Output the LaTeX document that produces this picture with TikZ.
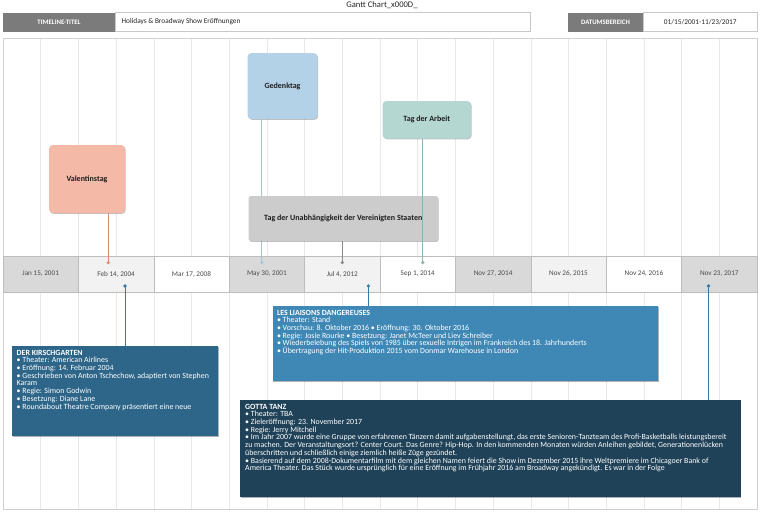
\documentclass[tikz,border=0pt]{standalone}
\usepackage{fontspec}
\setmainfont{Carlito}
\usetikzlibrary{shadows}
\definecolor{hdrgray}{HTML}{7B7B7B}
\definecolor{hdrline}{HTML}{C8C8C8}
\definecolor{framec}{HTML}{D0D0D0}
\definecolor{gridc}{HTML}{E8E8E8}
\definecolor{cellgray}{HTML}{D9D9D9}
\definecolor{celllight}{HTML}{F2F2F2}
\definecolor{cellline}{HTML}{BDBDBD}
\definecolor{datetext}{HTML}{4A4A4A}
\definecolor{cval}{HTML}{F4B9A7}
\definecolor{cged}{HTML}{B3D1E7}
\definecolor{carb}{HTML}{B4D7D2}
\definecolor{cunab}{HTML}{CCCCCC}
\definecolor{lval}{HTML}{D98A72}
\definecolor{lged}{HTML}{A5C5DB}
\definecolor{larb}{HTML}{8AB3B3}
\definecolor{lunab}{HTML}{8A8A8A}
\definecolor{bkir}{HTML}{2E6689}
\definecolor{blia}{HTML}{3F88B6}
\definecolor{bgot}{HTML}{1F4258}
\definecolor{lblue}{HTML}{3678A5}
\definecolor{cardtext}{HTML}{1E1E1E}
\tikzset{
  hdrlab/.style={fill=hdrgray, text=white, inner sep=0pt, outer sep=0pt, anchor=north west,
    minimum height=19pt, font=\fontsize{6.8}{7.5}\selectfont\bfseries},
  hdrval/.style={draw=hdrline, line width=0.6pt, fill=white, inner sep=0pt, outer sep=0pt,
    anchor=north west, minimum height=19pt},
  hdrtext/.style={inner sep=0pt, text=black!85, font=\fontsize{7.3}{8}\selectfont},
  cellbox/.style={draw=cellline, line width=0.5pt, inner sep=0pt, outer sep=0pt, anchor=north west,
    minimum width=75.4pt, minimum height=36pt, text=datetext, font=\fontsize{7.2}{8}\selectfont},
  cardbox/.style={rounded corners=4pt, inner sep=0pt, outer sep=0pt, anchor=north west, text=cardtext,
    font=\fontsize{8}{9}\selectfont\bfseries,
    drop shadow={shadow xshift=0.7pt, shadow yshift=-0.9pt, opacity=0.25, fill=black}},
  infobox/.style={inner sep=0pt, outer sep=0pt, anchor=north west,
    drop shadow={shadow xshift=0.8pt, shadow yshift=-1pt, opacity=0.3, fill=black}},
  infotext/.style={inner sep=0pt, anchor=north west, align=left, text=white,
    font=\fontsize{7.9}{7.7}\selectfont},
  conn/.style={line width=0.9pt},
  dotc/.style={radius=1.8pt},
}
\begin{document}
\begin{tikzpicture}[x=1pt,y=-1pt]
\useasboundingbox (0,0) rectangle (760,514);
\fill[white] (0,0) rectangle (760,514);
% title
\node[inner sep=0pt, text=black!85, font=\fontsize{8.6}{9}\selectfont] (title) at (382,4.8) {Gantt Chart\_x000D\_};
% header
\node[hdrlab, minimum width=112pt] (tlab) at (3,12.5) {TIMELINE-TITEL};
\node[hdrval, minimum width=415pt] (tval) at (115,12.5) {};
\node[hdrtext, anchor=west] (tvaltext) at (121.5,22) {Holidays \& Broadway Show Eröffnungen};
\node[hdrlab, minimum width=76pt] (dlab) at (567.5,12.5) {DATUMSBEREICH};
\node[hdrval, minimum width=113.5pt] (dval) at (643.5,12.5) {};
\node[hdrtext] (dvaltext) at (dval.center) {01/15/2001-11/23/2017};
% frame and grid
\draw[framec, line width=0.6pt] (3,38.3) rectangle (757,509);
\foreach \i in {1,...,19} \draw[gridc, line width=0.6pt] ({3+37.7*\i},38.6) -- ({3+37.7*\i},508.7);
% date bar
\node[cellbox, fill=cellgray] (d1) at (3,256) {Jan 15, 2001};
\node[cellbox, fill=celllight] (d2) at (78.4,256) {Feb 14, 2004};
\node[cellbox, fill=white] (d3) at (153.8,256) {Mar 17, 2008};
\node[cellbox, fill=cellgray] (d4) at (229.2,256) {May 30, 2001};
\node[cellbox, fill=celllight] (d5) at (304.6,256) {Jul 4, 2012};
\node[cellbox, fill=white] (d6) at (380,256) {Sep 1, 2014};
\node[cellbox, fill=cellgray] (d7) at (455.4,256) {Nov 27, 2014};
\node[cellbox, fill=celllight] (d8) at (530.8,256) {Nov 26, 2015};
\node[cellbox, fill=white] (d9) at (606.2,256) {Nov 24, 2016};
\node[cellbox, fill=cellgray] (d10) at (681.6,256) {Nov 23, 2017};
% top event points
\coordinate (pV) at (108.3,262.6);
\coordinate (pG) at (261.8,262.6);
\coordinate (pU) at (342.3,262.6);
\coordinate (pA) at (422.8,262.6);
% cards (with lines behind)
\node[cardbox, fill=cval, minimum width=76pt, minimum height=68pt] (valen) at (49,145) {Valentinstag};
\node[cardbox, fill=cged, minimum width=70pt, minimum height=66pt] (geden) at (247.5,53) {Gedenktag};
\node[cardbox, fill=carb, minimum width=88.5pt, minimum height=37.5pt] (arbeit) at (382.5,101) {Tag der Arbeit};
\draw[conn, lval] (valen.south -| pV) -- (pV);
\fill[lval] (pV) circle[dotc];
\draw[conn, lged] (geden.south -| pG) -- (pG);
\fill[lged] (pG) circle[dotc];
\node[cardbox, rounded corners=2.5pt, fill=cunab, minimum width=189.5pt, minimum height=45pt] (unab) at (248.5,196) {Tag der Unabhängigkeit der Vereinigten Staaten};
\draw[conn, lunab] (unab.south -| pU) -- (pU);
\fill[lunab] (pU) circle[dotc];
\draw[conn, larb] (arbeit.south -| pA) -- (pA);
\fill[larb] (pA) circle[dotc];
% bottom event points
\coordinate (qK) at (125,286);
\coordinate (qL) at (368.3,286);
\coordinate (qG) at (708.5,286);
% info boxes
\node[infobox, fill=bkir, minimum width=206.6pt, minimum height=89.5pt] (kirsch) at (11.7,346) {};
\node[infotext] (kirschtext) at ([xshift=4.8pt, yshift=-3.8pt]kirsch.north west) {\textbf{DER KIRSCHGARTEN}\\
• Theater: American Airlines\\
• Eröffnung: 14. Februar 2004\\
• Geschrieben von Anton Tschechow, adaptiert von Stephen\\
Karam\\
• Regie: Simon Godwin\\
• Besetzung: Diane Lane\\
• Roundabout Theatre Company präsentiert eine neue};
\node[infobox, fill=blia, minimum width=385.5pt, minimum height=75pt] (liais) at (272.5,306) {};
\node[infotext] (liaistext) at ([xshift=4.3pt, yshift=-3.8pt]liais.north west) {\textbf{LES LIAISONS DANGEREUSES}\\
• Theater: Stand\\
• Vorschau: 8. Oktober 2016 • Eröffnung: 30. Oktober 2016\\
• Regie: Josie Rourke • Besetzung: Janet McTeer und Liev Schreiber\\
• Wiederbelebung des Spiels von 1985 über sexuelle Intrigen im Frankreich des 18. Jahrhunderts\\
• Übertragung der Hit-Produktion 2015 vom Donmar Warehouse in London};
\node[infobox, fill=bgot, minimum width=500.5pt, minimum height=97pt] (gotta) at (240,400) {};
\node[infotext] (gottatext) at ([xshift=5pt, yshift=-3.8pt]gotta.north west) {\textbf{GOTTA TANZ}\\
• Theater: TBA\\
• Zieleröffnung: 23. November 2017\\
• Regie: Jerry Mitchell\\
• Im Jahr 2007 wurde eine Gruppe von erfahrenen Tänzern damit aufgabenstellungt, das erste Senioren-Tanzteam des Profi-Basketballs leistungsbereit\\
zu machen. Der Veranstaltungsort? Center Court. Das Genre? Hip-Hop. In den kommenden Monaten würden Anleihen gebildet, Generationenlücken\\
überschritten und schließlich einige ziemlich heiße Züge gezündet.\\
• Basierend auf dem 2008-Dokumentarfilm mit dem gleichen Namen feiert die Show im Dezember 2015 ihre Weltpremiere im Chicagoer Bank of\\
America Theater. Das Stück wurde ursprünglich für eine Eröffnung im Frühjahr 2016 am Broadway angekündigt. Es war in der Folge};
\draw[conn, lblue] (qK) -- (qK |- kirsch.north);
\fill[lblue] (qK) circle[dotc];
\draw[conn, lblue] (qL) -- (qL |- liais.north);
\fill[lblue] (qL) circle[dotc];
\draw[conn, lblue] (qG) -- (qG |- gotta.north);
\fill[lblue] (qG) circle[dotc];
\end{tikzpicture}
\end{document}
